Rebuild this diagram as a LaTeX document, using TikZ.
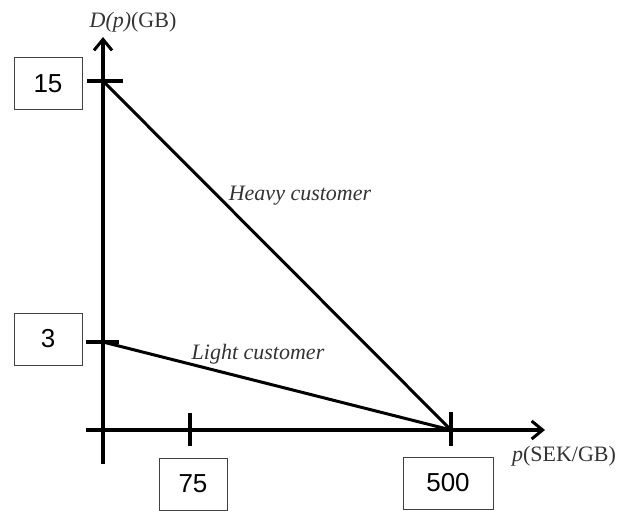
\documentclass[tikz,border=0pt]{standalone}
\usepackage{fontspec}
\setmainfont{Liberation Serif}
\newfontfamily\boxfont{Liberation Sans}
\usepackage{tikz}
\usetikzlibrary{arrows.meta}

\begin{document}
\begin{tikzpicture}[
    x=1pt, y=-1pt,
    axis/.style={line width=3.6pt, -{Straight Barb[length=11pt,width=18pt,line width=3pt]}},
    tick/.style={line width=3.4pt},
    demand/.style={line width=3pt},
    valbox/.style={rectangle, draw=black!75, line width=1pt, minimum height=52pt,
        font=\boxfont\fontsize{26}{30}\selectfont},
    curvelabel/.style={text=black!80, font=\itshape\fontsize{22}{24}\selectfont},
    axislabel/.style={text=black!80, font=\fontsize{22}{24}\selectfont}
]
    \useasboundingbox (0,0) rectangle (619,511);

    % Axes
    \coordinate (o) at (103,430);
    \coordinate (ybot) at (103,464);
    \coordinate (ytop) at (103,37);
    \coordinate (xleft) at (86,430);
    \coordinate (xright) at (545,430);
    \draw[axis] (ybot) -- (ytop);
    \draw[axis] (xleft) -- (xright);
    \node[axislabel] (ylab) at (133,22) {\textit{D(p)}(GB)};
    \node[axislabel] (xlab) at (564,456) {\textit{p}(SEK/GB)};

    % Ticks
    \coordinate (d15) at (103,81);
    \coordinate (d3) at (103,342);
    \coordinate (p75) at (190,430);
    \coordinate (p500) at (451,430);
    \draw[tick] (87,81) -- (123,81);
    \draw[tick] (86,342) -- (119,342);
    \draw[tick] (190,413) -- (190,446);
    \draw[tick] (451,412) -- (451,446);

    % Demand lines
    \draw[demand] (d15) -- (p500);
    \draw[demand] (d3) -- (p500);
    \node[curvelabel] (heavy) at (300,196) {Heavy customer};
    \node[curvelabel] (light) at (258,354) {Light customer};

    % Values
    \node[valbox, minimum width=68pt] (b15) at (48,84) {15};
    \node[valbox, minimum width=68pt] (b3) at (48,339) {3};
    \node[valbox, minimum width=68pt] (b75) at (193,484) {75};
    \node[valbox, minimum width=90pt] (b500) at (448,483) {500};
\end{tikzpicture}
\end{document}
